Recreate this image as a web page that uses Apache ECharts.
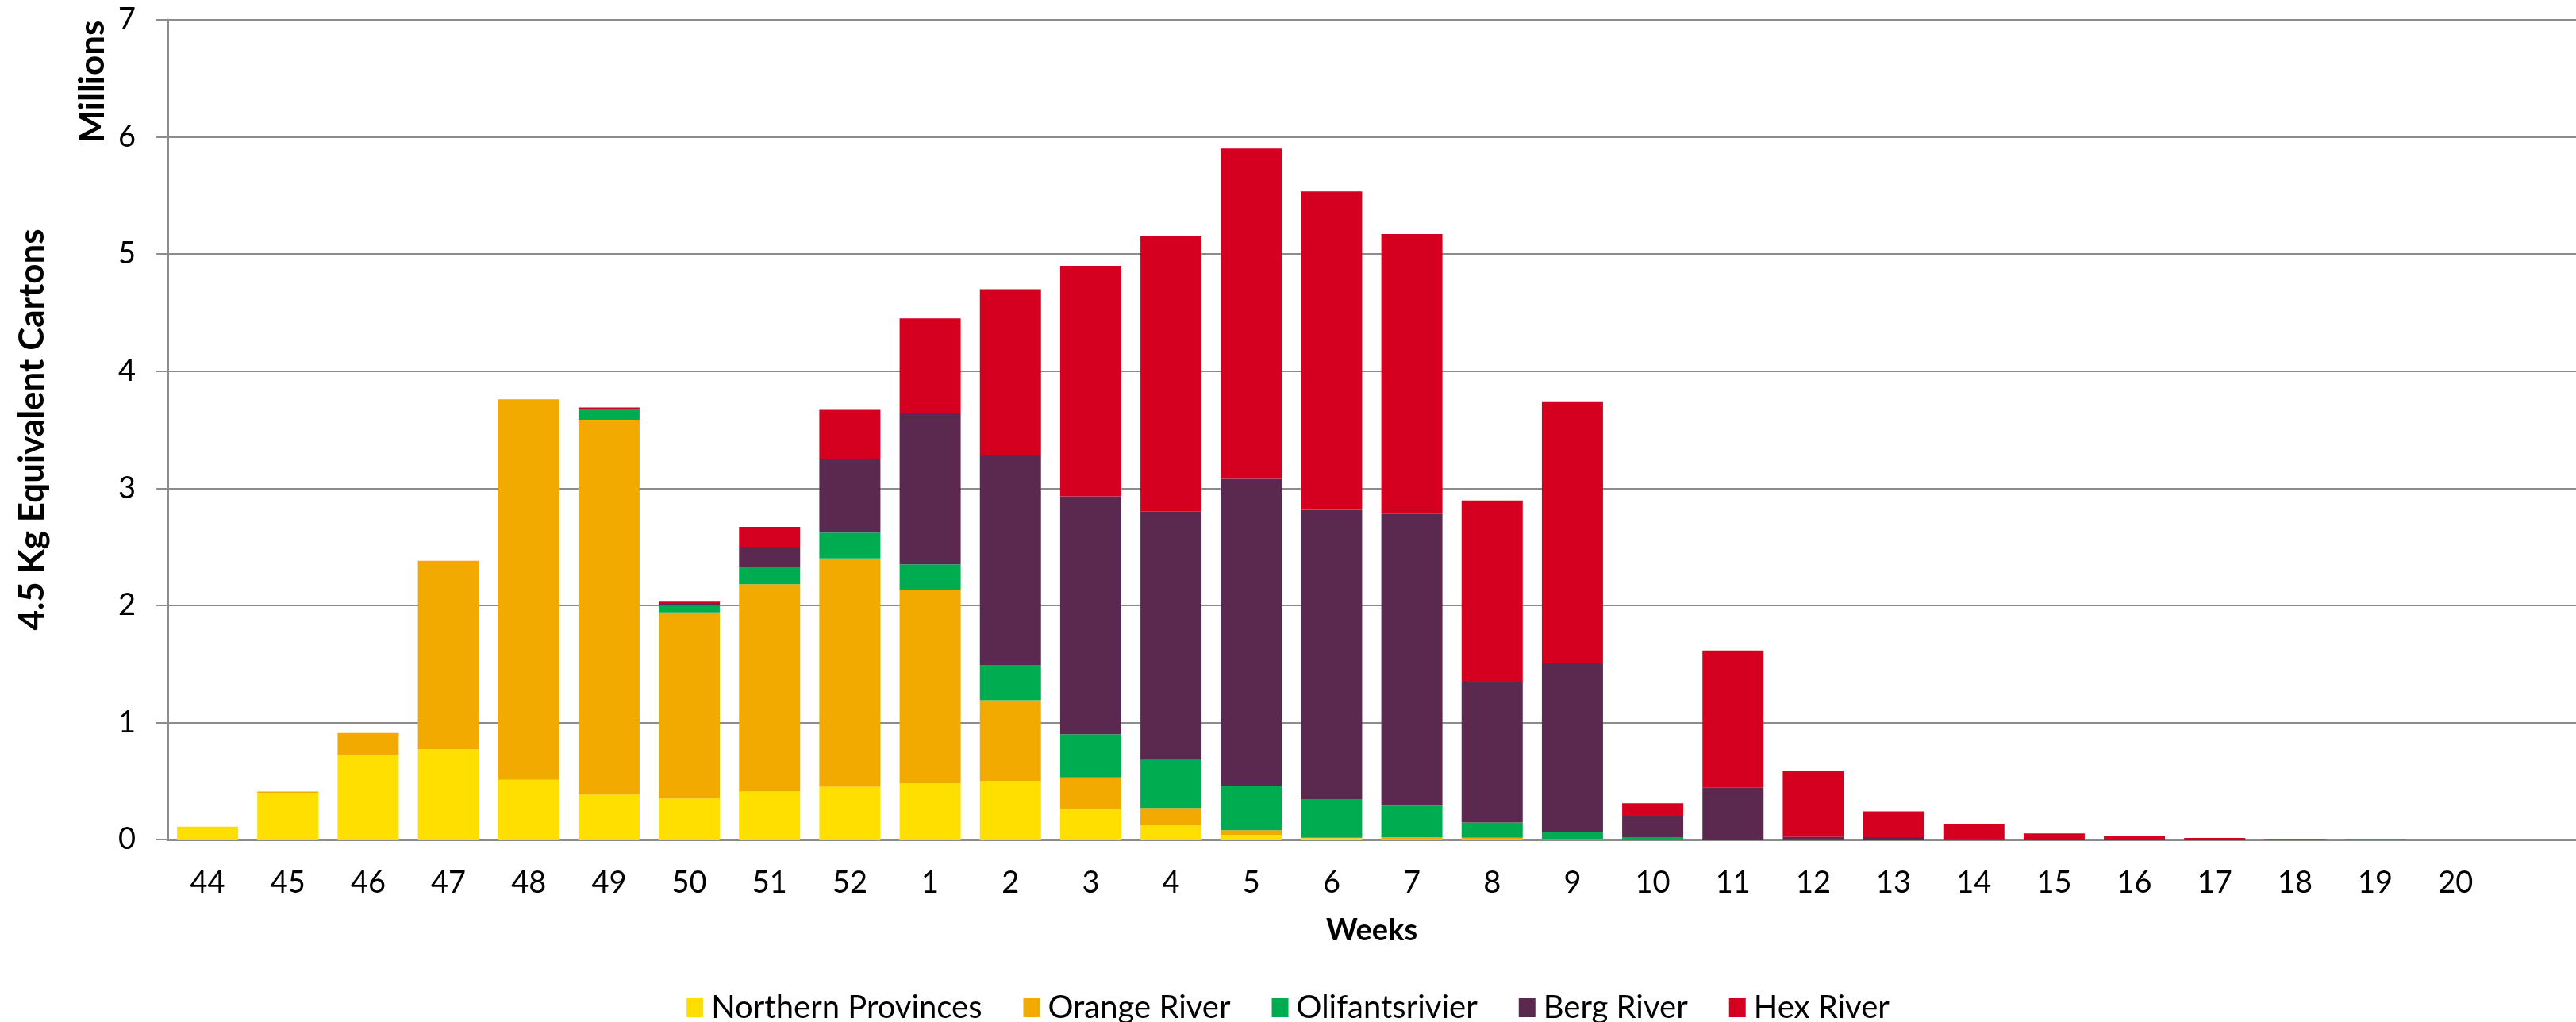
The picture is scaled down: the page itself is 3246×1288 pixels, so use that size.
<!DOCTYPE html>
<html>
<head>
<meta charset="utf-8">
<script src="https://cdn.jsdelivr.net/npm/echarts@6/dist/echarts.min.js"></script>
<style>
html,body{margin:0;padding:0;background:#fff;}
#chart{width:3246px;height:1288px;}
</style>
</head>
<body>
<div id="chart"></div>
<script>
// Categories: weeks (last slot is an unlabeled empty category seen at the right edge)
const weeks = ['44','45','46','47','48','49','50','51','52','1','2','3','4','5','6','7','8','9','10','11','12','13','14','15','16','17','18','19','20',''];
const yTicks = [0,1,2,3,4,5,6,7];

// Values in millions of 4.5 kg equivalent cartons
const northernProvinces = [0.11,0.40,0.72,0.77,0.51,0.385,0.35,0.41,0.45,0.48,0.50,0.26,0.12,0.04,0.01,0.005,0.005,0,0,0,0,0,0,0,0,0,0,0,0,0];
const orangeRiver       = [0,0.01,0.19,1.61,3.25,3.20,1.59,1.77,1.95,1.65,0.69,0.27,0.15,0.04,0.005,0.015,0.01,0.005,0,0,0,0,0,0,0,0,0,0,0,0];
const olifantsrivier    = [0,0,0,0,0,0.095,0.057,0.15,0.22,0.22,0.30,0.37,0.41,0.38,0.33,0.27,0.13,0.06,0.02,0,0.002,0,0,0,0,0,0,0,0,0];
const bergRiver         = [0,0,0,0,0,0,0.015,0.17,0.63,1.29,1.79,2.03,2.12,2.62,2.47,2.49,1.20,1.44,0.18,0.445,0.02,0.02,0.005,0,0,0,0,0,0,0];
const hexRiver          = [0,0,0,0,0,0.01,0.02,0.17,0.42,0.81,1.42,1.97,2.35,2.82,2.72,2.39,1.55,2.23,0.11,1.17,0.56,0.22,0.13,0.052,0.029,0.014,0.004,0.002,0,0];

const seriesNames = ['Northern Provinces','Orange River','Olifantsrivier','Berg River','Hex River'];
const seriesData = [northernProvinces, orangeRiver, olifantsrivier, bergRiver, hexRiver];
const colors = ['#FFDF00','#F2A900','#00AC50','#5B294F','#D5001F'];

const FONT = 'Lato';
const chart = echarts.init(document.getElementById('chart'), null, {renderer:'canvas'});
chart.setOption({
  animation: false,
  backgroundColor: '#ffffff',
  color: colors,
  textStyle: {fontFamily: FONT, color: '#000'},
  grid: {left: 211, right: 0, top: 25, bottom: 230, containLabel: false},
  legend: {
    data: seriesNames,
    left: 'center',
    top: 1245,
    icon: 'rect',
    itemWidth: 21,
    itemHeight: 24,
    itemGap: 52,
    textStyle: {fontFamily: FONT, fontSize: 40, color: '#000', padding: [0,0,0,5]}
  },
  xAxis: {
    type: 'category',
    data: weeks,
    name: 'Weeks',
    nameLocation: 'middle',
    nameGap: 96,
    nameTextStyle: {fontFamily: FONT, fontSize: 38, fontWeight: 'bold', color: '#000'},
    axisLine: {show: true, lineStyle: {color: '#8c8c8c', width: 3}},
    axisTick: {show: false},
    axisLabel: {fontFamily: FONT, fontSize: 38, color: '#000', margin: 36}
  },
  yAxis: {
    type: 'value',
    min: 0, max: 7, interval: 1,
    name: '4.5 Kg Equivalent Cartons',
    nameLocation: 'middle',
    nameGap: 148,
    nameTextStyle: {fontFamily: FONT, fontSize: 44, fontWeight: 'bold', color: '#000'},
    axisLine: {show: true, lineStyle: {color: '#8c8c8c', width: 3}},
    axisTick: {show: true, length: 14, lineStyle: {color: '#8c8c8c', width: 2}},
    splitLine: {show: true, lineStyle: {color: '#8c8c8c', width: 2}},
    axisLabel: {fontFamily: FONT, fontSize: 38, color: '#000', margin: 40,
      formatter: function(v){ return yTicks.indexOf(v) >= 0 ? String(v) : ''; }}
  },
  graphic: [{
    type: 'text',
    x: 117, y: 103,
    rotation: Math.PI/2,
    style: {text: 'Millions', fontFamily: FONT, fontSize: 44, fontWeight: 'bold', fill: '#000',
      align: 'center', verticalAlign: 'middle', textAlign: 'center', textVerticalAlign: 'middle'}
  }],
  series: seriesNames.map(function(n, i){
    return {
      name: n,
      type: 'bar',
      stack: 'total',
      barWidth: 77,
      data: seriesData[i],
      itemStyle: {color: colors[i]}
    };
  })
});
</script>
</body>
</html>
